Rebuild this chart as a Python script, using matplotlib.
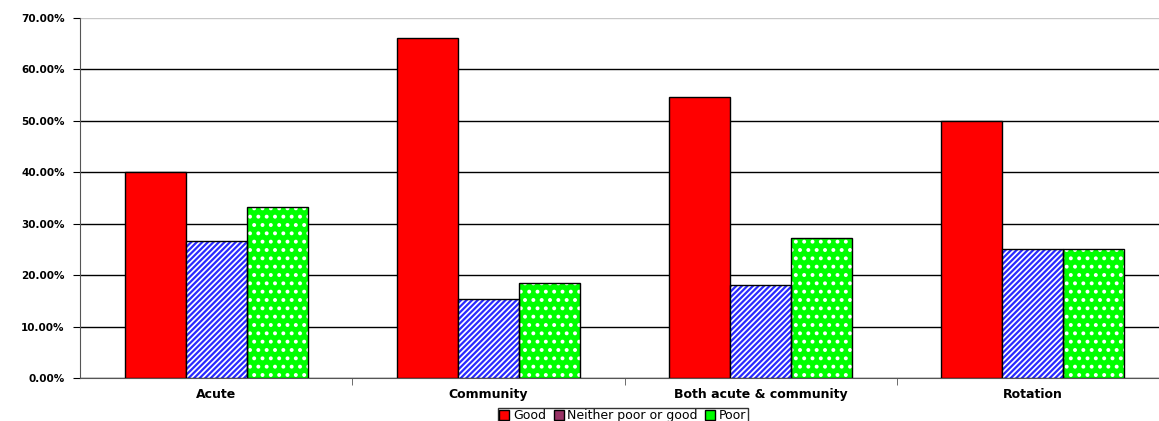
import numpy as np
import matplotlib.pyplot as plt
from matplotlib.patches import Patch
from matplotlib.ticker import FuncFormatter

plt.rcParams['font.family'] = ['DejaVu Sans']
plt.rcParams['hatch.linewidth'] = 1.6

# Data
categories = ['Acute', 'Community', 'Both acute & community', 'Rotation']
good = [40.00, 66.15, 54.55, 50.00]
neither = [26.67, 15.38, 18.18, 25.00]
poor = [33.33, 18.46, 27.27, 25.00]
series_names = ['Good', 'Neither poor or good', 'Poor']

fig = plt.figure(figsize=(11.59, 4.21), dpi=100)
ax = fig.add_axes([80 / 1159, 1 - 378 / 421, 1089 / 1159, 360 / 421])

x = np.arange(len(categories))
w = 0.224

# Good - solid red
ax.bar(x - w, good, w, color='#ff0000', edgecolor='black', linewidth=1, zorder=3)

# Neither - blue diagonal stripes on white
ax.bar(x, neither, w, color='white', edgecolor='#2a2aff', hatch='//////', linewidth=0, zorder=3)
ax.bar(x, neither, w, color='none', edgecolor='black', linewidth=1, zorder=4)

# Poor - green with white dots
ax.bar(x + w, poor, w, color='#00ff00', edgecolor='white', hatch='..', linewidth=0, zorder=3)
ax.bar(x + w, poor, w, color='none', edgecolor='black', linewidth=1, zorder=4)

# Axes styling
ax.set_xlim(-0.5, len(categories) - 0.5)
ax.set_ylim(0, 70)
ax.set_yticks(np.arange(0, 71, 10))
ax.yaxis.set_major_formatter(FuncFormatter(lambda v, p: f'{v:.2f}%'))
ax.grid(axis='y', color='black', linewidth=1, zorder=0)
ax.get_ygridlines()[-1].set_color('#c8c8c8')

ax.set_xticks(x)
ax.set_xticklabels(categories, fontweight='bold')
ax.set_xticks(np.arange(0.5, len(categories) - 0.5, 1), minor=True)
ax.tick_params(axis='x', which='major', length=0, pad=7, labelsize=9)
ax.tick_params(axis='x', which='minor', length=5, color='#555555')
ax.tick_params(axis='y', length=5, labelsize=7.5, color='black', pad=6)
for lab in ax.get_yticklabels():
    lab.set_fontweight('bold')

for side in ['top', 'right']:
    ax.spines[side].set_visible(False)
ax.spines['left'].set_color('#555555')
ax.spines['bottom'].set_color('#555555')

# Legend
handles = [
    Patch(facecolor='#ff0000', edgecolor='black'),
    Patch(facecolor='#993366', edgecolor='black'),
    Patch(facecolor='#00ff00', edgecolor='black'),
]
leg = fig.legend(handles, series_names, loc='upper center',
                 bbox_to_anchor=(623 / 1159, 1 - 408 / 421), ncol=3,
                 fontsize=9, frameon=True, fancybox=False, edgecolor='black',
                 handlelength=0.8, handleheight=0.8, handletextpad=0.3,
                 columnspacing=0.6, borderpad=0.1, borderaxespad=0)
leg.get_frame().set_linewidth(1)

fig.savefig('out.png', dpi=100)
